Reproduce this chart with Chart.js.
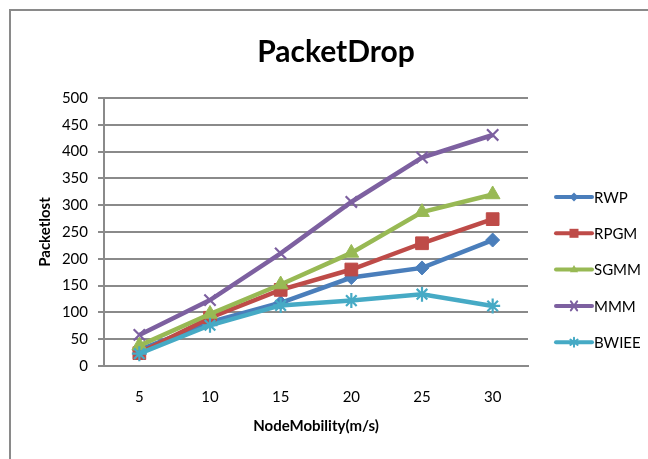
<!DOCTYPE html>
<html>
<head>
<meta charset="utf-8">
<script src="https://cdn.jsdelivr.net/npm/chart.js@4"></script>
<style>
  html, body { margin: 0; padding: 0; background: #ffffff; }
  #wrap { width: 648px; height: 459px; position: relative; }
</style>
</head>
<body>
<div id="wrap"><canvas id="chart" width="648" height="459"></canvas></div>
<script>
// Node speed categories (m/s)
const speeds = ['5', '10', '15', '20', '25', '30'];

// Packets lost per mobility model
const rwp   = [30, 82, 118, 165, 183, 235];
const rpgm  = [24, 90, 142, 180, 229, 274];
const sgmm  = [38, 97, 152, 211, 287, 320];
const mmm   = [58, 123, 210, 306, 389, 431];
const bwiee = [23, 76, 113, 122, 134, 112];

const seriesNames = ['RWP', 'RPGM', 'SGMM', 'MMM', 'BWIEE'];
const seriesData = [rwp, rpgm, sgmm, mmm, bwiee];
const seriesColors = ['#4A7EBB', '#BE4B48', '#98B954', '#7D60A0', '#46AAC5'];
const seriesMarkers = ['rectRot', 'rect', 'triangle', 'crossRot', 'star'];
const markerRadius = [7, 9, 8.5, 8, 7.5];

const yTicks = { min: 0, max: 500, step: 50 };

const FONT = 'Lato, "Open Sans", "Liberation Sans", sans-serif';
const GRID = '#8a8a8a';

const datasets = seriesNames.map((name, i) => ({
  label: name,
  data: seriesData[i],
  borderColor: seriesColors[i],
  backgroundColor: seriesColors[i],
  borderWidth: 4.5,
  pointStyle: seriesMarkers[i],
  pointRadius: markerRadius[i],
  pointHoverRadius: markerRadius[i],
  pointBorderWidth: (seriesMarkers[i] === 'crossRot' || seriesMarkers[i] === 'star') ? 2.2 : 1,
  pointBackgroundColor: seriesColors[i],
  pointBorderColor: seriesColors[i],
  tension: 0,
  fill: false,
  order: seriesNames.length - i
}));

// Small marker painter for the legend keys
function drawMarker(ctx, style, x, y, r, color) {
  ctx.save();
  ctx.fillStyle = color;
  ctx.strokeStyle = color;
  ctx.lineWidth = 2;
  ctx.beginPath();
  if (style === 'rectRot') {
    ctx.moveTo(x, y - r); ctx.lineTo(x + r, y); ctx.lineTo(x, y + r); ctx.lineTo(x - r, y);
    ctx.closePath(); ctx.fill();
  } else if (style === 'rect') {
    ctx.rect(x - r, y - r, 2 * r, 2 * r); ctx.fill();
  } else if (style === 'triangle') {
    ctx.moveTo(x, y - r); ctx.lineTo(x + r * 0.9, y + r * 0.6); ctx.lineTo(x - r * 0.9, y + r * 0.6);
    ctx.closePath(); ctx.fill();
  } else if (style === 'crossRot') {
    ctx.moveTo(x - r * 0.7, y - r); ctx.lineTo(x + r * 0.7, y + r);
    ctx.moveTo(x + r * 0.7, y - r); ctx.lineTo(x - r * 0.7, y + r);
    ctx.stroke();
  } else if (style === 'star') {
    ctx.moveTo(x, y - r); ctx.lineTo(x, y + r);
    ctx.moveTo(x - r * 0.8, y - r * 0.6); ctx.lineTo(x + r * 0.8, y + r * 0.6);
    ctx.moveTo(x + r * 0.8, y - r * 0.6); ctx.lineTo(x - r * 0.8, y + r * 0.6);
    ctx.stroke();
  }
  ctx.restore();
}

const decorations = {
  id: 'decorations',
  afterDraw(chart) {
    const ctx = chart.ctx;
    ctx.save();
    // outer frame (top and left edges)
    ctx.strokeStyle = GRID;
    ctx.lineWidth = 2;
    ctx.beginPath();
    ctx.moveTo(10, 459); ctx.lineTo(10, 10); ctx.lineTo(648, 10);
    ctx.stroke();

    // chart heading
    ctx.fillStyle = '#000000';
    ctx.font = 'bold 30px ' + FONT;
    ctx.textAlign = 'center';
    ctx.textBaseline = 'middle';
    ctx.fillText('PacketDrop', 336, 52);

    // legend
    const keyTop = 197, keyStep = 36.3;
    ctx.font = '15px ' + FONT;
    ctx.textAlign = 'left';
    chart.data.datasets.forEach((ds, i) => {
      const y = keyTop + i * keyStep;
      ctx.strokeStyle = ds.borderColor;
      ctx.lineWidth = 4;
      ctx.lineCap = 'round';
      ctx.beginPath();
      ctx.moveTo(556, y); ctx.lineTo(592, y);
      ctx.stroke();
      drawMarker(ctx, ds.pointStyle, 574, y, 4.5, ds.borderColor);
      ctx.fillStyle = '#000000';
      ctx.fillText(ds.label, 594, y + 1);
    });
    ctx.restore();
  }
};

new Chart(document.getElementById('chart'), {
  type: 'line',
  data: { labels: speeds, datasets },
  options: {
    responsive: false,
    animation: false,
    layout: { padding: { top: 98, right: 120, bottom: 0, left: 30 } },
    plugins: {
      legend: { display: false },
      title: { display: false },
      tooltip: { enabled: false }
    },
    scales: {
      x: {
        offset: true,
        grid: { display: false, drawTicks: false },
        border: { display: true, color: GRID, width: 2 },
        ticks: { color: '#000000', font: { family: FONT, size: 15 }, padding: 22, maxRotation: 0 },
        title: {
          display: true,
          text: 'NodeMobility(m/s)',
          color: '#000000',
          font: { family: FONT, size: 15, weight: 'bold' },
          padding: { top: 4, bottom: 24 }
        },
        afterFit(scale) { scale.height = 93; }
      },
      y: {
        min: yTicks.min,
        max: yTicks.max,
        grid: { color: GRID, lineWidth: 2, drawTicks: true, tickLength: 6 },
        border: { display: true, color: GRID, width: 2 },
        ticks: { stepSize: yTicks.step, color: '#000000', font: { family: FONT, size: 15 }, padding: 10 },
        title: {
          display: true,
          text: 'Packetlost',
          color: '#000000',
          font: { family: FONT, size: 15, weight: 'bold' },
          padding: { top: 6, bottom: 0 }
        },
        afterFit(scale) { scale.width = 74; }
      }
    }
  },
  plugins: [decorations]
});
</script>
</body>
</html>
